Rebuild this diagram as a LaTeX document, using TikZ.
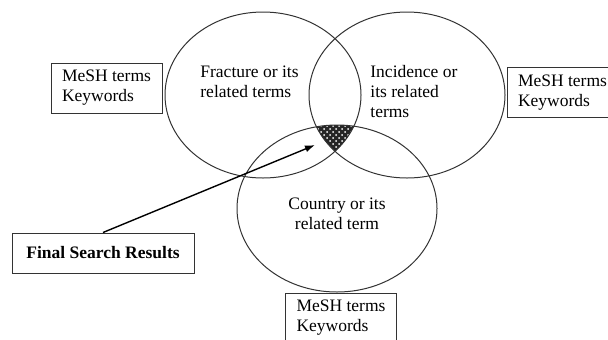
\documentclass[tikz,border=0pt]{standalone}
\usepackage{fontspec}
\setmainfont{Liberation Serif}
\usetikzlibrary{patterns,arrows.meta}
\tikzset{
  termbox/.style={draw=black!80, line width=0.5pt, align=left, minimum width=55.5pt, minimum height=25pt, inner sep=0pt},
  setlabel/.style={inner sep=0pt, align=left},
  setline/.style={draw=black!80, line width=0.5pt},
}
\begin{document}
\begin{tikzpicture}[x=0.5pt, y=0.5pt, font=\fontsize{8.75}{10}\selectfont]
\clip (0,0) rectangle (608,339);
\coordinate (F) at (263,244);
\coordinate (I) at (407,244);
\coordinate (C) at (337,130.5);
% shaded overlap
\begin{scope}
\clip (F) ellipse [x radius=49pt, y radius=41.5pt];
\clip (I) ellipse [x radius=49pt, y radius=41.5pt];
\fill[black!85] (C) ellipse [x radius=50pt, y radius=41.75pt];
\fill[pattern=crosshatch dots, pattern color=white] (C) ellipse [x radius=50pt, y radius=41.75pt];
\end{scope}
% sets
\draw[setline] (F) ellipse [x radius=49pt, y radius=41.5pt];
\draw[setline] (I) ellipse [x radius=49pt, y radius=41.5pt];
\draw[setline] (C) ellipse [x radius=50pt, y radius=41.75pt];
% labels
\node[setlabel, anchor=west] (fracture) at (200,257) {Fracture or its\\related terms};
\node[setlabel, anchor=west] (incidence) at (370,247) {Incidence or\\its related\\terms};
\node[setlabel, align=center] (country) at (337,125) {Country or its\\related term};
% search term boxes
\node[termbox] (meshF) at (106.5,251) {MeSH terms\\Keywords};
\node[termbox] (meshI) at (562.5,246.5) {MeSH terms\\Keywords};
\node[termbox] (meshC) at (341,21) {MeSH terms\\Keywords};
\node[draw=black!80, line width=0.5pt, minimum width=91pt, minimum height=20pt, font=\fontsize{8.75}{10}\selectfont\bfseries] (final) at (103,86) {Final Search Results};
% pointer
\coordinate (overlap) at (315,194);
\draw[-{Latex[length=5pt,width=3.5pt]}, line width=0.7pt] (final.north) -- (overlap);
\end{tikzpicture}
\end{document}
